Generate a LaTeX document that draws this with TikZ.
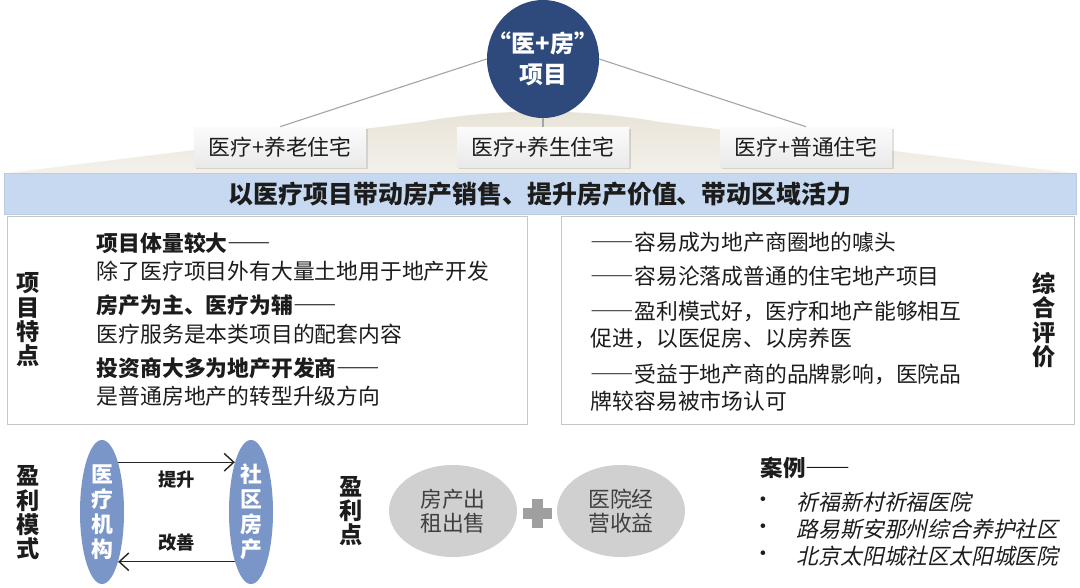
\documentclass[tikz,border=0pt]{standalone}
\usepackage{fontspec}
\setmainfont{Noto Sans CJK SC}[ItalicFont={Noto Sans CJK SC}, ItalicFeatures={FakeSlant=0.22}]
\usepackage{tikz}
\usetikzlibrary{shapes.geometric, arrows.meta, positioning, shadows}
\definecolor{hubblue}{RGB}{46,74,124}
\definecolor{bandblue}{RGB}{198,217,240}
\definecolor{ovalblue}{RGB}{122,150,200}
\definecolor{ovalgrey}{RGB}{208,208,208}
\definecolor{hilltop}{RGB}{232,227,215}
\definecolor{hillbot}{RGB}{244,241,235}
\definecolor{txt}{RGB}{28,28,28}
\newcommand{\longdash}{{\addfontfeature{CharacterWidth=Full}——}}

\begin{document}
\begin{tikzpicture}[
  x=0.025cm, y=-0.025cm,
  every node/.style={font=\fontsize{15.5}{18}\selectfont, text=txt},
  hub/.style={ellipse, fill=hubblue, minimum width=2.8cm, minimum height=2.95cm, inner sep=0pt},
  hubtext/.style={align=center, text=white, font=\fontsize{17}{22}\selectfont\bfseries},
  tag/.style={rectangle, top color=gray!3, bottom color=gray!17, drop shadow={opacity=0.25, shadow xshift=0.6mm, shadow yshift=-0.6mm}, minimum width=4.3cm, minimum height=1cm},
  band/.style={rectangle, fill=bandblue, draw=bandblue!85!gray, minimum width=26.8cm, minimum height=1.02cm, font=\fontsize{17.7}{20}\selectfont\bfseries},
  panel/.style={rectangle, draw=gray!45, fill=white, minimum height=5.2cm},
  side/.style={align=center, font=\fontsize{16.5}{17.3}\selectfont\bfseries},
  headline/.style={anchor=west, font=\fontsize{15.5}{18}\selectfont\bfseries},
  bodyline/.style={anchor=west},
  oval/.style={ellipse, fill=ovalblue, minimum width=1.1cm, minimum height=3.6cm, inner sep=0pt, align=center, text=white, font=\fontsize{15.5}{17.8}\selectfont\bfseries},
  profit/.style={ellipse, fill=ovalgrey, minimum width=3.2cm, minimum height=2.3cm, inner sep=0pt, align=center, text=black!75, font=\fontsize{15.5}{17}\selectfont},
  link/.style={draw=gray!70, line width=0.8pt},
  flow/.style={-{Straight Barb[length=2.4mm, width=4.4mm]}, line width=1pt, black!85},
  small/.style={font=\fontsize{13}{15}\selectfont\bfseries}
]
\useasboundingbox (0,0) rectangle (1080,587);
\fill[white] (0,0) rectangle (1080,587);

% Background hill behind the three types
\shade[top color=hilltop, bottom color=hillbot] (0,174) -- (420,122) .. controls (500,108) and (580,108) .. (660,122) -- (1080,174) -- cycle;

% Project circle and its three types
\node[hub] (hub) at (543,59) {};
\node[hubtext] (hubtxt) at (hub.center) {“医+房”\\项目};
\node[tag] (elder) at (280,147) {医疗+养老住宅};
\node[tag] (health) at (543,147) {医疗+养生住宅};
\node[tag] (plain) at (806,147) {医疗+普通住宅};

\draw[link] (hub.west) -- (elder.north);
\draw[link] (hub.south) -- (health.north);
\draw[link] (hub.east) -- (plain.north);

% Banner
\node[band] (band) at (540,194) {以医疗项目带动房产销售、提升房产价值、带动区域活力};

% Features panel
\node[panel, minimum width=13cm] (feat) at (267,320) {};
\node[side] (featlbl) at (28,320) {项\\目\\特\\点};
\node[headline] (f1) at (92,243) {项目体量较大\longdash};
\node[bodyline] (f2) at (92,271) {除了医疗项目外有大量土地用于地产开发};
\node[headline] (f3) at (92,305) {房产为主、医疗为辅\longdash};
\node[bodyline] (f4) at (92,334) {医疗服务是本类项目的配套内容};
\node[headline] (f5) at (92,368) {投资商大多为地产开发商\longdash};
\node[bodyline] (f6) at (92,396) {是普通房地产的转型升级方向};

% Evaluation panel
\node[panel, minimum width=12.83cm] (eval) at (817.5,320) {};
\node[side] (evallbl) at (1044,320) {综\\合\\评\\价};
\node[bodyline] (e1) at (586,242) {\longdash 容易成为地产商圈地的噱头};
\node[bodyline] (e2) at (586,276) {\longdash 容易沦落成普通的住宅地产项目};
\node[bodyline] (e3) at (586,311) {\longdash 盈利模式好，医疗和地产能够相互};
\node[bodyline] (e4) at (586,338) {促进，以医促房、以房养医};
\node[bodyline] (e5) at (586,374) {\longdash 受益于地产商的品牌影响，医院品};
\node[bodyline] (e6) at (586,401) {牌较容易被市场认可};

% Profit model
\node[side] (modellbl) at (28,513) {盈\\利\\模\\式};
\node[oval] (inst) at (102,512) {医\\疗\\机\\构};
\node[oval] (comm) at (251,512) {社\\区\\房\\产};
\draw[flow] (inst.72) -- (comm.108) node[midway, below=2pt, small] (lift) {提升};
\draw[flow] (comm.-108) -- (inst.-72) node[midway, above=3.5pt, small] (improve) {改善};

% Profit points
\node[side] (pointlbl) at (351,511) {盈\\利\\点};
\node[profit] (rent) at (453,511) {房产出\\租出售};
\node[profit] (oper) at (621,511) {医院经\\营收益};
\fill[gray!75] (523,508) rectangle (552,519);
\fill[gray!75] (532,499) rectangle (543,528);

% Cases
\node[anchor=west, font=\fontsize{16}{18}\selectfont\bfseries] (cases) at (756,468) {案例\longdash};
\node[anchor=west, font=\fontsize{15.5}{18}\selectfont\itshape] (c1) at (792,502) {祈福新村祈福医院};
\node[anchor=west, font=\fontsize{15.5}{18}\selectfont\itshape] (c2) at (792,529) {路易斯安那州综合养护社区};
\node[anchor=west, font=\fontsize{15.5}{18}\selectfont\itshape] (c3) at (792,556) {北京太阳城社区太阳城医院};
\node (b1) at (763,502) {•};
\node (b2) at (763,529) {•};
\node (b3) at (763,556) {•};

\end{tikzpicture}
\end{document}
